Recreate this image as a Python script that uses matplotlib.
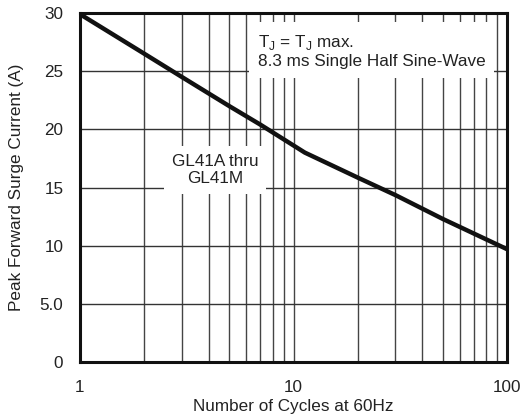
import matplotlib
matplotlib.use("Agg")
import matplotlib.pyplot as plt
from matplotlib.ticker import FixedLocator, NullFormatter

plt.rcParams['font.family'] = ['Liberation Sans', 'DejaVu Sans']

cycles = [1, 2, 3, 5, 7, 11.3, 20, 30, 50, 100]
current = [29.9, 26.5, 24.5, 22.0, 20.4, 18.0, 15.85, 14.35, 12.3, 9.7]
y_ticks = [0, 5, 10, 15, 20, 25, 30]
y_tick_labels = ["0", "5.0", "10", "15", "20", "25", "30"]
x_ticks = [1, 10, 100]
x_tick_labels = ["1", "10", "100"]

FS = 12.3

fig = plt.figure(figsize=(5.23, 4.19), dpi=100)
ax = fig.add_axes([80/523, (419-362)/419, (507-80)/523, (362-13)/419])

ax.set_xscale('log')
ax.set_xlim(1, 100)
ax.set_ylim(0, 30)

minor = [m * d for d in (1, 10) for m in range(2, 10)]
ax.xaxis.set_major_locator(FixedLocator(x_ticks))
ax.xaxis.set_minor_locator(FixedLocator(minor))
ax.xaxis.set_minor_formatter(NullFormatter())
ax.set_xticks(x_ticks)
ax.set_xticklabels(x_tick_labels)
ax.set_yticks(y_ticks)
ax.set_yticklabels(y_tick_labels)

ax.tick_params(axis='both', which='both', length=0, labelsize=FS, colors='#222222')
ax.tick_params(axis='x', pad=13)
ax.tick_params(axis='y', pad=12)

ax.grid(True, which='major', axis='y', color='#333333', linewidth=1.0)
ax.grid(True, which='both', axis='x', color='#444444', linewidth=1.0)
ax.set_axisbelow(True)

for s in ax.spines.values():
    s.set_linewidth(2.2)
    s.set_color('#111111')

ax.plot(cycles, current, color='#111111', linewidth=3.2, solid_capstyle='butt', zorder=5)

ax.text(258/523, 1 - 51/419, "T$_\\mathregular{J}$ = T$_\\mathregular{J}$ max.\n8.3 ms Single Half Sine-Wave",
        transform=fig.transFigure, fontsize=FS, color='#222222', ha='left', va='center',
        linespacing=1.2,
        bbox=dict(facecolor='white', edgecolor='none', boxstyle='square,pad=0.5'), zorder=4)

ax.text(215/523, 1 - 170/419, "GL41A thru\nGL41M",
        transform=fig.transFigure, fontsize=FS, color='#222222', ha='center', va='center',
        linespacing=1.2,
        bbox=dict(facecolor='white', edgecolor='none', boxstyle='square,pad=0.45'), zorder=4)

ax.set_xlabel("Number of Cycles at 60Hz", fontsize=FS, color='#222222', labelpad=3)
ax.set_ylabel("Peak Forward Surge Current (A)", fontsize=FS, color='#222222', labelpad=11)

fig.savefig("out.png", dpi=100)
